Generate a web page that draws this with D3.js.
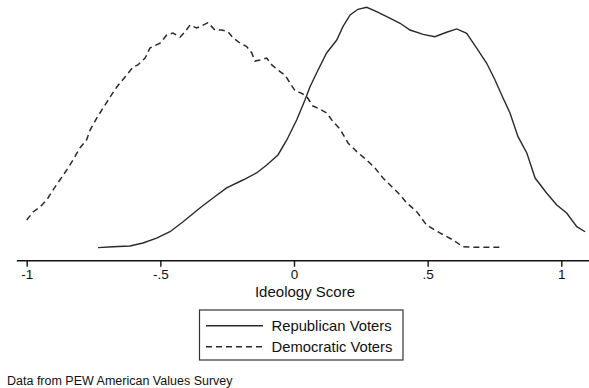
<!DOCTYPE html>
<html>
<head>
<meta charset="utf-8">
<script src="https://cdn.jsdelivr.net/npm/d3@7"></script>
<style>
  html, body { margin: 0; padding: 0; background: #fff; }
  svg { display: block; }
  text { font-family: "Liberation Sans", Arial, sans-serif; fill: #111; }
</style>
</head>
<body>
<svg id="chart" width="589" height="388"></svg>
<script>
// Kernel density of ideology scores, Republican voters
const repScore = [-0.733,-0.677,-0.614,-0.565,-0.514,-0.464,-0.415,-0.352,-0.303,-0.252,-0.191,-0.140,-0.102,-0.060,-0.027,0.010,0.041,0.060,0.090,0.122,0.160,0.183,0.210,0.239,0.272,0.309,0.347,0.397,0.434,0.483,0.527,0.571,0.609,0.646,0.684,0.721,0.752,0.782,0.808,0.827,0.838,0.871,0.902,0.945,0.983,1.020,1.058,1.089];
const repDensity = [0.009,0.015,0.020,0.040,0.073,0.115,0.182,0.273,0.340,0.407,0.460,0.507,0.560,0.627,0.727,0.860,0.993,1.082,1.193,1.307,1.393,1.482,1.560,1.598,1.611,1.582,1.549,1.505,1.460,1.431,1.415,1.445,1.467,1.438,1.338,1.238,1.127,1.007,0.907,0.807,0.749,0.640,0.473,0.373,0.293,0.240,0.149,0.115];

// Kernel density of ideology scores, Democratic voters
const demScore = [-1.000,-0.976,-0.950,-0.925,-0.902,-0.876,-0.850,-0.827,-0.801,-0.776,-0.763,-0.738,-0.688,-0.663,-0.632,-0.602,-0.584,-0.557,-0.539,-0.501,-0.476,-0.453,-0.426,-0.408,-0.389,-0.364,-0.352,-0.322,-0.296,-0.270,-0.247,-0.228,-0.202,-0.177,-0.158,-0.146,-0.127,-0.102,-0.083,-0.060,-0.034,-0.015,0.004,0.029,0.048,0.071,0.097,0.122,0.146,0.172,0.202,0.235,0.272,0.303,0.333,0.366,0.397,0.422,0.459,0.496,0.546,0.595,0.632,0.684,0.782];
const demDensity = [0.193,0.247,0.280,0.327,0.393,0.460,0.527,0.593,0.673,0.727,0.793,0.873,1.013,1.080,1.147,1.213,1.227,1.273,1.340,1.373,1.427,1.440,1.413,1.447,1.493,1.473,1.482,1.509,1.460,1.460,1.449,1.407,1.373,1.349,1.307,1.253,1.260,1.273,1.227,1.193,1.160,1.107,1.055,1.038,1.015,0.953,0.933,0.907,0.849,0.800,0.707,0.649,0.593,0.540,0.473,0.415,0.360,0.307,0.249,0.160,0.107,0.060,0.015,0.011,0.011];

// Axis ticks and labels
const tickValues = [-1, -0.5, 0, 0.5, 1];
const tickLabels = ["-1", "-.5", "0", ".5", "1"];

const seriesNames = ["Republican Voters", "Democratic Voters"];
const axisTitle = "Ideology Score";
const note = "Data from PEW American Values Survey";

const svg = d3.select("#chart");
const W = 589;

const x = d3.scaleLinear().domain([-1, 1]).range([26.7, 561.3]);
const y = d3.scaleLinear().domain([0, 1.66]).range([249, 0]);

const line = d3.line().x(d => x(d[0])).y(d => y(d[1]));

const rep = d3.zip(repScore, repDensity);
const dem = d3.zip(demScore, demDensity);

const curves = svg.append("g");
curves.append("path")
  .datum(rep)
  .attr("d", line)
  .attr("fill", "none")
  .attr("stroke", "#2a2a2a")
  .attr("stroke-width", 1.4);

curves.append("path")
  .datum(dem)
  .attr("d", line)
  .attr("fill", "none")
  .attr("stroke", "#2a2a2a")
  .attr("stroke-width", 1.5)
  .attr("stroke-dasharray", "6,4");

// x axis
const axisY = 260.7;
const axis = d3.axisBottom(x)
  .tickValues(tickValues)
  .tickFormat((d, i) => tickLabels[i])
  .tickSize(6)
  .tickSizeOuter(0);

const gx = svg.append("g")
  .attr("transform", `translate(0,${axisY})`)
  .call(axis);
gx.select(".domain").remove();
gx.append("line")
  .attr("x1", x(-1.037)).attr("x2", W)
  .attr("stroke", "#111").attr("stroke-width", 1.6);
gx.selectAll(".tick line").attr("stroke", "#111").attr("stroke-width", 1.4);
gx.selectAll(".tick text")
  .attr("y", 9)
  .attr("fill", "#111")
  .style("font-size", "13.5px")
  .style("font-family", "'Liberation Sans', Arial, sans-serif");

svg.append("text")
  .attr("x", x(0) + 11)
  .attr("y", 297)
  .attr("text-anchor", "middle")
  .style("font-size", "15px")
  .text(axisTitle);

// legend
const lg = svg.append("g");
lg.append("rect")
  .attr("x", 199.5).attr("y", 310)
  .attr("width", 203.5).attr("height", 50)
  .attr("fill", "none")
  .attr("stroke", "#333")
  .attr("stroke-width", 1.2);

const rows = [
  { name: seriesNames[0], dash: null, cy: 325.7 },
  { name: seriesNames[1], dash: "6,4", cy: 346.7 }
];
rows.forEach(r => {
  lg.append("line")
    .attr("x1", 206).attr("x2", 263)
    .attr("y1", r.cy).attr("y2", r.cy)
    .attr("stroke", "#2a2a2a")
    .attr("stroke-width", 1.4)
    .attr("stroke-dasharray", r.dash);
  lg.append("text")
    .attr("x", 271.5).attr("y", r.cy + 5.3)
    .style("font-size", "14.8px")
    .text(r.name);
});

svg.append("text")
  .attr("x", 7)
  .attr("y", 384.5)
  .style("font-size", "12.5px")
  .text(note);
</script>
</body>
</html>
